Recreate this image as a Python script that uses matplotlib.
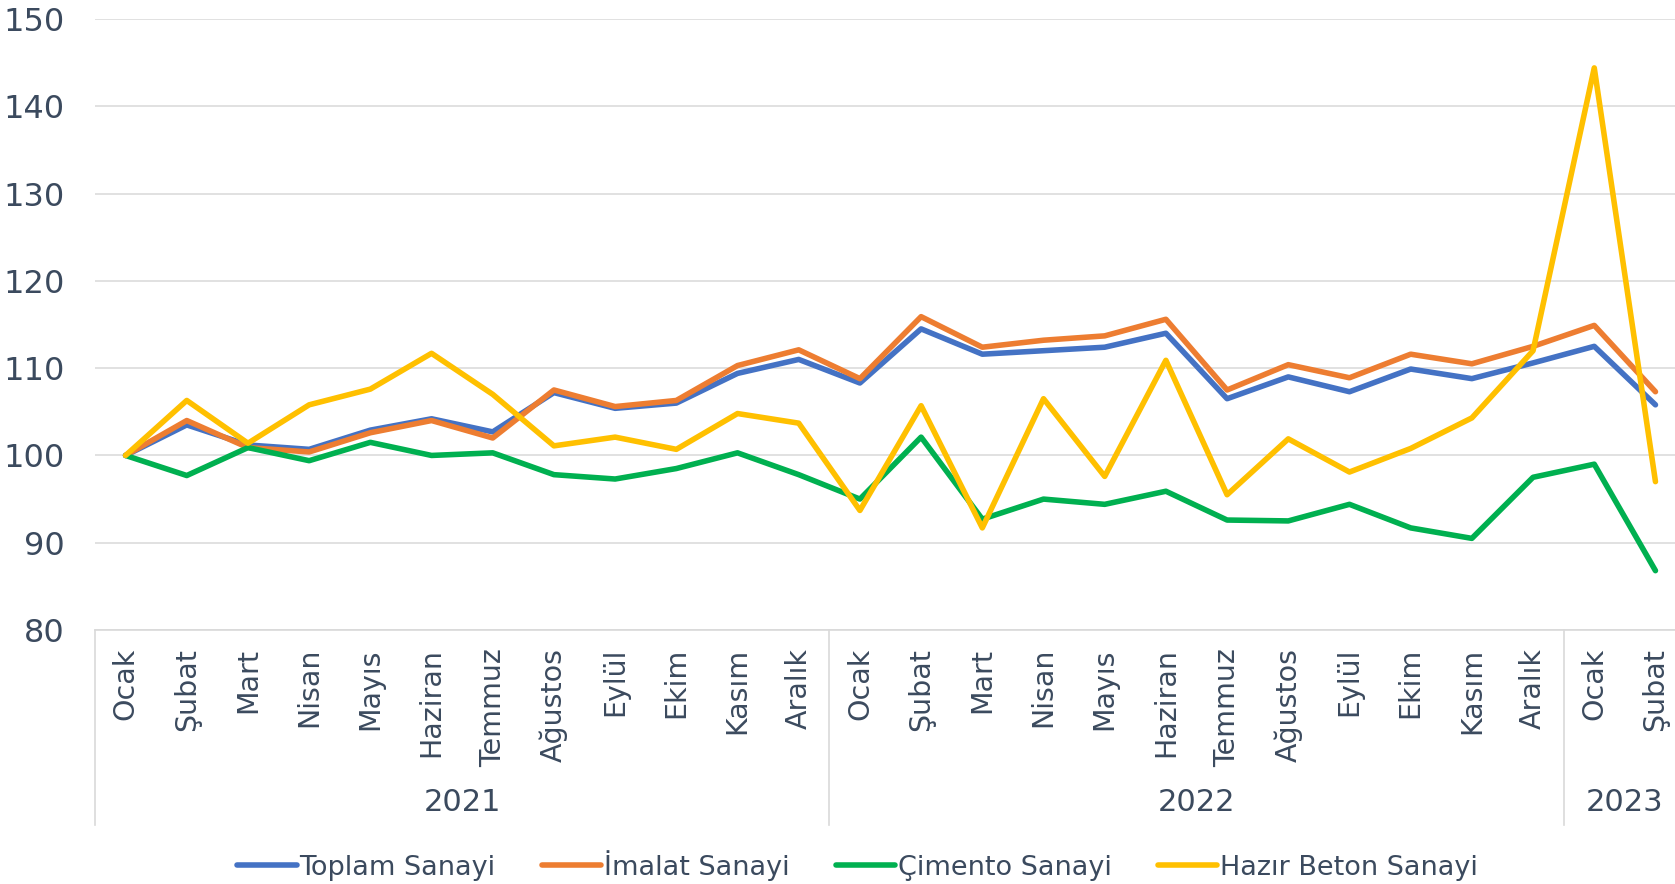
import matplotlib
matplotlib.use("Agg")
import matplotlib.pyplot as plt

months = ["Ocak", "Şubat", "Mart", "Nisan", "Mayıs", "Haziran", "Temmuz",
          "Ağustos", "Eylül", "Ekim", "Kasım", "Aralık"]
labels = months + months + months[:2]
years = ["2021", "2022", "2023"]
year_sizes = [12, 12, 2]

toplam = [100.0, 103.5, 101.2, 100.7, 102.9, 104.2, 102.7, 107.2, 105.4, 106.0, 109.4, 111.0,
          108.3, 114.5, 111.6, 112.0, 112.4, 114.0, 106.5, 109.0, 107.3, 109.9, 108.8, 110.6,
          112.5, 105.8]
imalat = [100.0, 104.0, 100.9, 100.4, 102.6, 104.0, 102.0, 107.5, 105.6, 106.3, 110.3, 112.1,
          108.8, 115.9, 112.4, 113.2, 113.7, 115.6, 107.5, 110.4, 108.9, 111.6, 110.5, 112.5,
          114.9, 107.3]
cimento = [100.0, 97.7, 100.9, 99.4, 101.5, 100.0, 100.3, 97.8, 97.3, 98.5, 100.3, 97.8,
           95.0, 102.1, 92.7, 95.0, 94.4, 95.9, 92.6, 92.5, 94.4, 91.7, 90.5, 97.5,
           99.0, 86.8]
beton = [100.0, 106.3, 101.4, 105.8, 107.6, 111.7, 107.0, 101.1, 102.1, 100.7, 104.8, 103.7,
         93.7, 105.7, 91.7, 106.5, 97.6, 110.9, 95.5, 101.9, 98.1, 100.8, 104.3, 112.0,
         144.4, 97.0]

series = [("Toplam Sanayi", toplam, "#4472C4"),
          ("İmalat Sanayi", imalat, "#ED7D31"),
          ("Çimento Sanayi", cimento, "#00B050"),
          ("Hazır Beton Sanayi", beton, "#FFC000")]

txt = "#3B4A5E"
grid = "#D9D9D9"
plt.rcParams["font.family"] = ["DejaVu Sans"]

fig = plt.figure(figsize=(16.75, 8.84), dpi=100)
ax = fig.add_axes([0.0567, 0.2873, 0.9499, 0.6912])

x = list(range(len(labels)))
for name, vals, col in series:
    ax.plot(x, vals, color=col, lw=4, label=name, solid_joinstyle="round",
            solid_capstyle="round", zorder=3)

ax.set_xlim(-0.5, len(labels) - 0.5)
ax.set_ylim(80, 150)
ax.set_yticks(range(80, 151, 10))
ax.yaxis.grid(True, color=grid, lw=1.1)
ax.set_axisbelow(True)
for s in ["left", "right", "top"]:
    ax.spines[s].set_visible(False)
ax.spines["bottom"].set_color(grid)
ax.spines["bottom"].set_linewidth(1.2)
ax.tick_params(axis="y", length=0, pad=22, labelsize=23, labelcolor=txt)
ax.set_xticks(x)
ax.set_xticklabels(labels, rotation=90, fontsize=20.5, color=txt)
ax.tick_params(axis="x", length=0, pad=13)

# year groups and separators below the axis
trans = ax.get_xaxis_transform()
start = 0
for yr, n in zip(years, year_sizes):
    ax.plot([start - 0.5, start - 0.5], [0, -0.319], transform=trans, color=grid,
            lw=1.2, clip_on=False)
    ax.text(start + (n - 1) / 2, -0.283, yr, transform=trans, ha="center", va="center",
            fontsize=22, color=txt)
    start += n

ax.legend(loc="center", bbox_to_anchor=(0.512, 0.021), bbox_transform=fig.transFigure,
          ncol=4, frameon=False, fontsize=19.5, labelcolor=txt, handlelength=2.2,
          handletextpad=0.1, columnspacing=1.7)

fig.savefig("out.png", dpi=100)
